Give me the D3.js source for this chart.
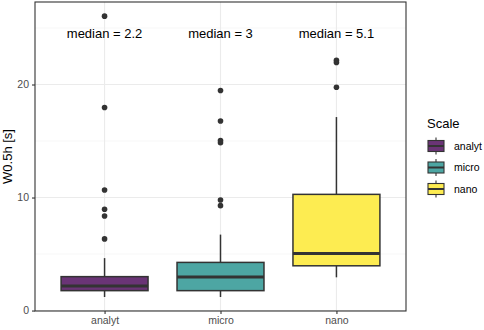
<!DOCTYPE html>
<html>
<head>
<meta charset="utf-8">
<script src="https://cdn.jsdelivr.net/npm/d3@7"></script>
<style>
  html, body { margin: 0; padding: 0; background: #fff; }
  svg { display: block; font-family: "Liberation Sans", Arial, sans-serif; }
</style>
</head>
<body>
<svg id="chart" width="484" height="330"></svg>
<script>
const categories   = ["analyt", "micro", "nano"];
const whiskerLow   = [1.2, 1.2, 2.94];
const q1           = [1.76, 1.76, 3.96];
const medians      = [2.18, 2.97, 5.05];
const q3           = [3.0, 4.26, 10.28];
const whiskerHigh  = [4.64, 6.72, 17.12];
const outliers     = [
  [6.34, 8.37, 8.96, 10.66, 17.97, 26.05],
  [9.28, 9.78, 14.85, 15.05, 16.77, 19.47],
  [19.76, 21.95, 22.15]
];
const medianLabels = ["median = 2.2", "median = 3", "median = 5.1"];
const labelY       = 24.5;
const yTicks       = [0, 10, 20];
const yMinor       = [5, 15, 25];
const fills        = ["#6a3476", "#4da6a3", "#fdec51"];

const svg = d3.select("#chart");
const pLeft = 35, pRight = 406, pTop = 2, pBottom = 311;

const x = d3.scalePoint().domain(categories).range([pLeft, pRight]).padding(0.6);
const step = x.step();
const boxW = step * 0.75;
const y = d3.scaleLinear().domain([-0.04, 27.3]).range([pBottom, pTop]);
const color = d3.scaleOrdinal().domain(categories).range(fills);

// grid
const grid = svg.append("g");
grid.selectAll(".minor").data(yMinor).join("line")
  .attr("x1", pLeft).attr("x2", pRight)
  .attr("y1", d => y(d)).attr("y2", d => y(d))
  .attr("stroke", "#f2f2f2").attr("stroke-width", 0.6);
grid.selectAll(".major").data(yTicks).join("line")
  .attr("x1", pLeft).attr("x2", pRight)
  .attr("y1", d => y(d)).attr("y2", d => y(d))
  .attr("stroke", "#ebebeb").attr("stroke-width", 1.1);
grid.selectAll(".vmajor").data(categories).join("line")
  .attr("y1", pTop).attr("y2", pBottom)
  .attr("x1", d => x(d)).attr("x2", d => x(d))
  .attr("stroke", "#ebebeb").attr("stroke-width", 1.1);

// boxes
const data = categories.map((c, i) => ({
  c, lo: whiskerLow[i], q1: q1[i], med: medians[i], q3: q3[i], hi: whiskerHigh[i], out: outliers[i]
}));
const bx = svg.append("g").selectAll("g").data(data).join("g");
bx.append("line")
  .attr("x1", d => x(d.c)).attr("x2", d => x(d.c))
  .attr("y1", d => y(d.q3)).attr("y2", d => y(d.hi))
  .attr("stroke", "#333").attr("stroke-width", 1.5);
bx.append("line")
  .attr("x1", d => x(d.c)).attr("x2", d => x(d.c))
  .attr("y1", d => y(d.q1)).attr("y2", d => y(d.lo))
  .attr("stroke", "#333").attr("stroke-width", 1.5);
bx.append("rect")
  .attr("x", d => x(d.c) - boxW / 2).attr("width", boxW)
  .attr("y", d => y(d.q3)).attr("height", d => y(d.q1) - y(d.q3))
  .attr("fill", d => color(d.c)).attr("stroke", "#333").attr("stroke-width", 1.5);
bx.append("line")
  .attr("x1", d => x(d.c) - boxW / 2).attr("x2", d => x(d.c) + boxW / 2)
  .attr("y1", d => y(d.med)).attr("y2", d => y(d.med))
  .attr("stroke", "#333").attr("stroke-width", 3);
bx.selectAll("circle").data(d => d.out.map(v => ({c: d.c, v}))).join("circle")
  .attr("cx", d => x(d.c)).attr("cy", d => y(d.v)).attr("r", 2.8)
  .attr("fill", "#333");

// median labels
svg.append("g").selectAll("text").data(categories).join("text")
  .attr("x", d => x(d)).attr("y", y(labelY))
  .attr("text-anchor", "middle").attr("dy", "0.35em")
  .attr("font-size", 13).attr("fill", "#000")
  .text((d, i) => medianLabels[i]);

// panel border
svg.append("rect").attr("x", pLeft).attr("y", pTop)
  .attr("width", pRight - pLeft).attr("height", pBottom - pTop)
  .attr("fill", "none").attr("stroke", "#333").attr("stroke-width", 1.1);

// axes
const yAxis = svg.append("g").attr("transform", `translate(${pLeft},0)`)
  .call(d3.axisLeft(y).tickValues(yTicks).tickSize(3).tickPadding(3));
const xAxis = svg.append("g").attr("transform", `translate(0,${pBottom})`)
  .call(d3.axisBottom(x).tickSize(3).tickPadding(3));
[yAxis, xAxis].forEach(a => {
  a.select(".domain").remove();
  a.selectAll(".tick line").attr("stroke", "#333").attr("stroke-width", 1.1);
  a.selectAll(".tick text").attr("fill", "#4d4d4d").attr("font-size", 10.5)
    .attr("font-family", "Liberation Sans, Arial, sans-serif");
});

// y title
svg.append("text")
  .attr("transform", `translate(12,${(pTop + pBottom) / 2}) rotate(-90)`)
  .attr("text-anchor", "middle").attr("font-size", 13).attr("fill", "#000")
  .text("W0.5h [s]");

// legend
const lg = svg.append("g");
lg.append("text").attr("x", 427).attr("y", 128).attr("font-size", 13).attr("fill", "#000").text("Scale");
const keyY = [146, 167.5, 189];
const kg = lg.selectAll("g").data(categories).join("g")
  .attr("transform", (d, i) => `translate(436,${keyY[i]})`);
kg.append("line").attr("x1", 0).attr("x2", 0).attr("y1", -8.5).attr("y2", 8.5)
  .attr("stroke", "#333").attr("stroke-width", 1.1);
kg.append("rect").attr("x", -8).attr("y", -5.5).attr("width", 16).attr("height", 11)
  .attr("fill", d => color(d)).attr("stroke", "#333").attr("stroke-width", 1.1);
kg.append("line").attr("x1", -8).attr("x2", 8).attr("y1", 0).attr("y2", 0)
  .attr("stroke", "#333").attr("stroke-width", 2);
kg.append("text").attr("x", 18).attr("y", 0).attr("dy", "0.35em")
  .attr("font-size", 10.5).attr("fill", "#000").text(d => d);
</script>
</body>
</html>
